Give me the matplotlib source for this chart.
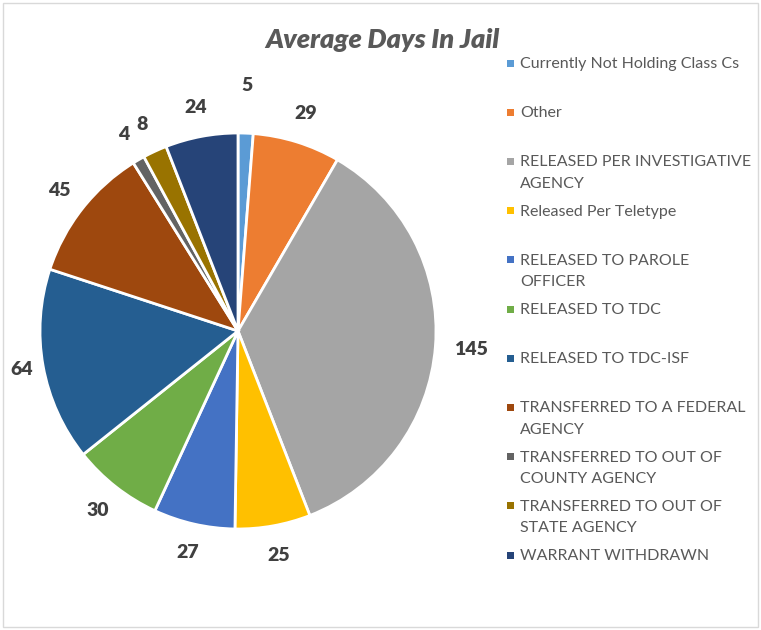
import numpy as np
import matplotlib
matplotlib.use("Agg")
import matplotlib.pyplot as plt
from matplotlib.patches import Rectangle

categories = [
    "Currently Not Holding Class Cs",
    "Other",
    "RELEASED PER INVESTIGATIVE\nAGENCY",
    "Released Per Teletype",
    "RELEASED TO PAROLE\nOFFICER",
    "RELEASED TO TDC",
    "RELEASED TO TDC-ISF",
    "TRANSFERRED TO A FEDERAL\nAGENCY",
    "TRANSFERRED TO OUT OF\nCOUNTY AGENCY",
    "TRANSFERRED TO OUT OF\nSTATE AGENCY",
    "WARRANT WITHDRAWN",
]
days = [5, 29, 145, 25, 27, 30, 64, 45, 4, 8, 24]
colors = ["#5B9BD5", "#ED7D31", "#A5A5A5", "#FFC000", "#4472C4", "#70AD47",
          "#255E91", "#9E480E", "#636363", "#997300", "#264478"]

plt.rcParams["font.family"] = ["Lato", "DejaVu Sans"]
W, H = 761, 630
fig = plt.figure(figsize=(W / 100, H / 100), dpi=100)

# chart frame
fig.patches.append(Rectangle((3 / W, 3 / H), (W - 6) / W, (H - 6) / H,
                             transform=fig.transFigure, fill=False,
                             edgecolor="#D9D9D9", lw=1))

# pie: centre (238, 331) px, radius 198 px
cx, cy, r = 238, 331, 198
ax = fig.add_axes([(cx - r) / W, (H - cy - r) / H, 2 * r / W, 2 * r / H])
wedges, texts = ax.pie(days, labels=[str(v) for v in days], colors=colors,
                       startangle=90, counterclock=False, labeldistance=1.15,
                       wedgeprops=dict(edgecolor="white", linewidth=2),
                       textprops=dict(fontsize=14, fontweight="heavy", color="#404040"))
ax.set_xlim(-1, 1); ax.set_ylim(-1, 1); ax.set_aspect("equal")

# Excel centres its data labels; a couple sit at their own distance
dist = {0: 1.24, 2: 1.18, 6: 1.11}
for i, (w, t) in enumerate(zip(wedges, texts)):
    t.set_ha("center"); t.set_va("center")
    if i in dist:
        a = np.deg2rad((w.theta1 + w.theta2) / 2)
        t.set_position((dist[i] * np.cos(a), dist[i] * np.sin(a)))

fig.text(382 / W, 1 - 40 / H, "Average Days In Jail", ha="center", va="center",
         fontsize=19.5, fontweight="heavy", fontstyle="italic", color="#595959")

# legend, Excel-style: fixed step per entry, marker on first line
for i, (lab, c) in enumerate(zip(categories, colors)):
    y = 63 + 49.2 * i
    fig.patches.append(Rectangle((507 / W, 1 - (y + 3.5) / H), 7 / W, 7 / H,
                                 transform=fig.transFigure, color=c, lw=0))
    fig.text(520 / W, 1 - (y - 6) / H, lab, ha="left", va="top", fontsize=11.5,
             color="#595959", linespacing=1.65)

fig.savefig("out.png", dpi=100)
